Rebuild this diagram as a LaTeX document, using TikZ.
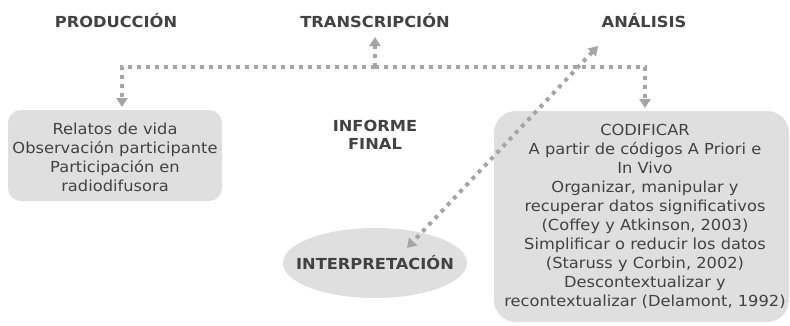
\documentclass[tikz,border=0pt]{standalone}
\usepackage{fontspec}
\setmainfont[FakeStretch=1.07]{DejaVu Sans}
\usetikzlibrary{arrows.meta,shapes.geometric}
\definecolor{txt}{HTML}{424242}
\definecolor{boxfill}{HTML}{DFDFDF}
\definecolor{lnk}{HTML}{A5A5A5}
\tikzset{
  head/.style={font=\bfseries\fontsize{15.2}{17}\selectfont, text=txt},
  boxtext/.style={font=\fontsize{15.2}{19}\selectfont, text=txt, align=center},
  conn/.style={draw=lnk, line width=4pt, dash pattern=on 4pt off 5pt,
     -{Triangle[width=11pt,length=9pt,fill=lnk]}},
  conn2/.style={draw=lnk, line width=4pt, dash pattern=on 4pt off 5pt,
     {Triangle[width=11pt,length=9pt,fill=lnk]}-{Triangle[width=11pt,length=9pt,fill=lnk]}},
}
\begin{document}
\begin{tikzpicture}[x=1pt,y=-1pt]
\useasboundingbox (0,0) rectangle (790,325);
% boxes
\fill[boxfill, rounded corners=13pt] (8,110) rectangle (222,201);
\node[boxtext] (lbox) at (115,157) {Relatos de vida\\Observación participante\\Participación en\\radiodifusora};
\coordinate (ltop) at (122,110);
\fill[boxfill, rounded corners=22pt] (494,111) rectangle (789,322);
\node[boxtext] (rbox) at (645,216) {CODIFICAR\\A partir de códigos A Priori e\\In Vivo\\Organizar, manipular y\\recuperar datos significativos\\(Coffey y Atkinson, 2003)\\Simplificar o reducir los datos\\(Staruss y Corbin, 2002)\\Descontextualizar y\\recontextualizar (Delamont, 1992)};
\coordinate (rtop) at (645,111);
\node[ellipse, fill=boxfill, minimum width=184pt, minimum height=70pt] (interp) at (375,263) {};
\node[head] at (interp) {INTERPRETACIÓN};
% headings
\node[head] (prod) at (116,21) {PRODUCCIÓN};
\node[head] (trans) at (375,21) {TRANSCRIPCIÓN};
\node[head] (anal) at (644,21) {ANÁLISIS};
\node[head, align=center, font=\bfseries\fontsize{15.2}{18}\selectfont] (inf) at (375,135) {INFORME\\FINAL};
% connectors
\coordinate (j) at (375,67);
\coordinate (ttip) at (375,37);
\draw[conn] (j) -- (ttip);
\draw[conn, shorten >=3pt] (j) -| (ltop);
\draw[conn, shorten >=3pt] (j) -| (rtop);
\coordinate (d1) at (598,46);
\coordinate (d2) at (407,248);
\draw[conn2] (d1) -- (d2);
\end{tikzpicture}
\end{document}
